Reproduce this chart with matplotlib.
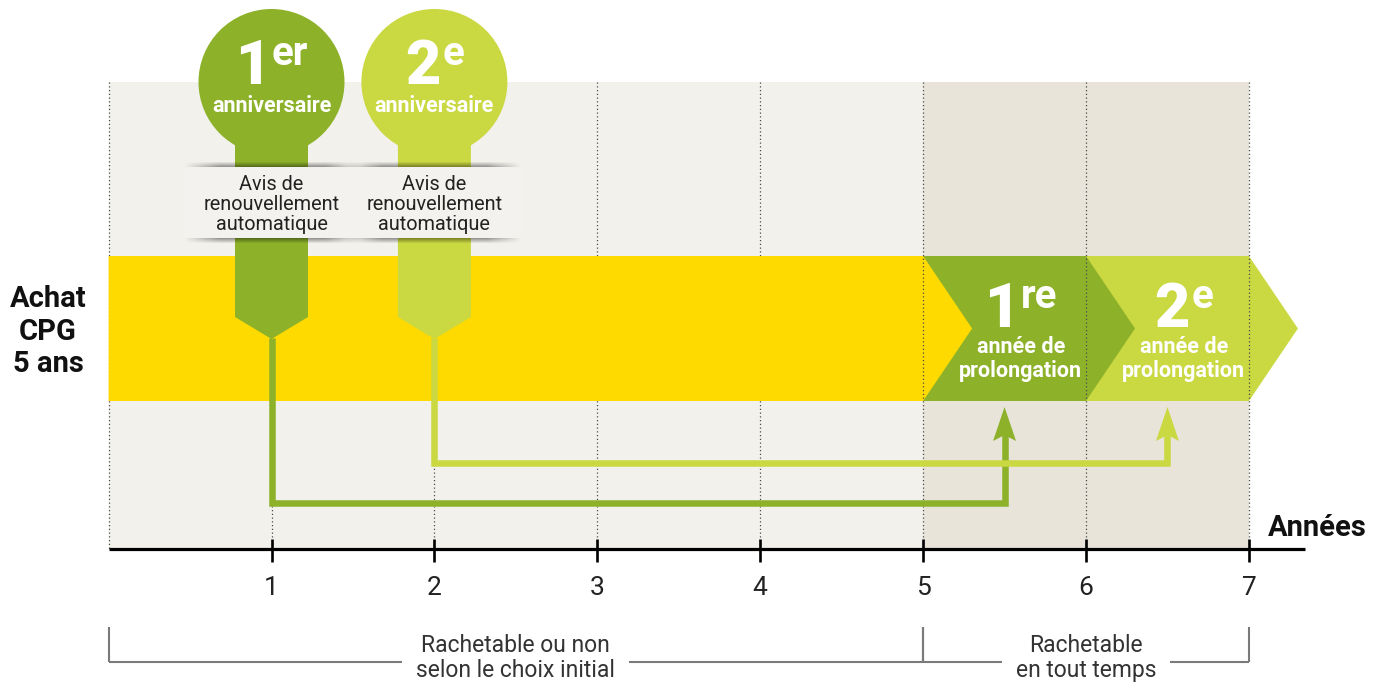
import numpy as np
import matplotlib
matplotlib.use("Agg")
from matplotlib import pyplot as plt
from matplotlib.patches import Polygon, Rectangle, Ellipse

plt.rcParams["font.family"] = ["Roboto", "DejaVu Sans"]

# ---- data ----
YEARS = [1, 2, 3, 4, 5, 6, 7]
TERM = 5
ANNIV_YEARS = [1, 2]
ANNIV_NUM = ["1", "2"]
ANNIV_SUP = ["er", "e"]
ANNIV_NOTE = ["Avis de", "renouvellement", "automatique"]
EXT_START = [5, 6]
EXT_NUM = ["1", "2"]
EXT_SUP = ["re", "e"]
EXT_LABEL = ["année de", "prolongation"]
ARROW_TARGET = [5.5, 6.5]
PERIODS = [(0, 5), (5, 7)]
PERIOD_LABELS = [["Rachetable ou non", "selon le choix initial"],
                 ["Rachetable", "en tout temps"]]
ROW_LABEL = ["Achat", "CPG", "5 ans"]

# ---- style ----
GREENS = ["#8DB22A", "#CAD841"]
YELLOW = "#FFDA00"
BG_LIGHT = "#F3F1EC"
BG_DARK = "#E8E4DA"
PX = 162.9          # pixels per year
X0 = 108.6          # pixel position of year 0


def px(w):
    return w / PX


fig = plt.figure(figsize=(13.85, 6.88), dpi=100)
ax = fig.add_axes([0, 0, 1, 1])
ax.set_xlim(-X0 / PX, (1385 - X0) / PX)
ax.set_ylim(688, 0)
ax.axis("off")
renderer = fig.canvas.get_renderer()

# background panels
last = YEARS[-1]
ax.add_patch(Rectangle((0, 82), TERM, 467, color=BG_LIGHT, lw=0, zorder=0))
ax.add_patch(Rectangle((TERM, 82), last - TERM, 467, color=BG_DARK, lw=0, zorder=0))

# dotted year lines
for y in [0] + YEARS:
    ax.vlines(y, 82, 549, colors="#4a4a4a", lw=0.9, linestyles=(0, (1, 2)),
              zorder=3 if y >= TERM else 1)

# band: term (yellow) + extension chevrons
tip = px(49)
top, bot, mid = 256, 401, 328.5
for i, s in reversed(list(enumerate(EXT_START))):
    ax.add_patch(Polygon([(s, top), (s + 1, top), (s + 1 + tip, mid), (s + 1, bot), (s, bot)],
                         closed=True, color=GREENS[i], lw=0, zorder=2))
ax.add_patch(Polygon([(0, top), (TERM, top), (TERM + tip, mid), (TERM, bot), (0, bot)],
                     closed=True, color=YELLOW, lw=0, zorder=2.5))


def ordinal(xc, base, num, sup, big=44, small=29, rise=19):
    t1 = ax.text(xc, base, num, fontsize=big, weight="heavy", color="white",
                 ha="left", va="baseline", zorder=9)
    t2 = ax.text(xc, base - rise, sup, fontsize=small, weight="bold", color="white",
                 ha="left", va="baseline", zorder=9)
    w1 = t1.get_window_extent(renderer).width
    w2 = t2.get_window_extent(renderer).width
    left = xc - px((w1 + w2 + 2) / 2)
    t1.set_x(left)
    t2.set_x(left + px(w1 + 2))


def shadow(x0, x1, y, down):
    # soft grey edge, fading towards the ends and away from the box
    h, w = 6, 200
    v = np.linspace(0.38, 0.0, h)
    if not down:
        v = v[::-1]
    u = np.clip(np.minimum(np.linspace(0, 1, w), np.linspace(1, 0, w)) * 5, 0, 1)
    rgba = np.zeros((h, w, 4))
    rgba[..., 3] = v[:, None] * u[None, :]
    y0, y1 = (y, y + h) if down else (y - h, y)
    ax.imshow(rgba, extent=(x0, x1, y1, y0), aspect="auto", interpolation="bilinear",
              zorder=6.5)


# chevron labels
for i, s in enumerate(EXT_START):
    xc = s + 0.6
    ordinal(xc, 327, EXT_NUM[i], EXT_SUP[i])
    ax.text(xc, 353, EXT_LABEL[0], fontsize=15.5, weight="bold", color="white",
            ha="center", va="baseline", zorder=9)
    ax.text(xc, 377, EXT_LABEL[1], fontsize=15.5, weight="bold", color="white",
            ha="center", va="baseline", zorder=9)

# connectors with arrows
link_y = [503, 463]
for i, a in enumerate(ANNIV_YEARS):
    t = ARROW_TARGET[i]
    ax.plot([a, a, t, t], [338, link_y[i], link_y[i], 434], color=GREENS[i], lw=4.7,
            solid_joinstyle="miter", solid_capstyle="butt", zorder=4)
    ax.add_patch(Polygon([(t, 407), (t + px(11.5), 441), (t, 435), (t - px(11.5), 441)],
                         closed=True, color=GREENS[i], lw=0, zorder=4))

# balloons
r = 73
half = 36.5
for i, a in enumerate(ANNIV_YEARS):
    c = GREENS[i]
    ax.add_patch(Polygon([(a - px(half), 140), (a + px(half), 140), (a + px(half), 317),
                          (a, 339), (a - px(half), 317)], closed=True, color=c, lw=0, zorder=5))
    ax.add_patch(Ellipse((a, 82), 2 * px(r), 2 * r, color=c, lw=0, zorder=5))
    ordinal(a, 84, ANNIV_NUM[i], ANNIV_SUP[i])
    ax.text(a, 112, "anniversaire", fontsize=15.5, weight="bold", color="white",
            ha="center", va="baseline", zorder=9)

    # note box with soft shadows
    bx0, bx1 = a - px(88), a + px(88)
    ax.add_patch(Rectangle((bx0, 167), bx1 - bx0, 71, color="#F4F2EE", lw=0, zorder=6))
    shadow(bx0, bx1, 167, down=False)
    shadow(bx0, bx1, 238, down=True)
    for j, line in enumerate(ANNIV_NOTE):
        ax.text(a, 190 + 20 * j, line, fontsize=14.3, color="#222222",
                ha="center", va="baseline", zorder=9)

# row label
for j, line in enumerate(ROW_LABEL):
    ax.text(px(48 - X0), 307 + 32.5 * j, line, fontsize=21, weight="bold", color="#111111",
            ha="center", va="baseline", zorder=9)

# time axis
ax.hlines(549, 0, px(1305 - X0), colors="black", lw=2.3, zorder=7)
ax.vlines(YEARS, 539, 562, colors="black", lw=1.9, zorder=7)
for y in YEARS:
    ax.text(y, 588, str(y), fontsize=19, color="#222222", ha="center", va="center",
            zorder=9)
ax.text(px(1268 - X0), 536, "Années", fontsize=21, weight="bold", color="#111111",
        ha="left", va="baseline", zorder=9)

# period brackets
for (p0, p1), lines in zip(PERIODS, PERIOD_LABELS):
    xc = (p0 + p1) / 2
    width = 0
    for j, line in enumerate(lines):
        t = ax.text(xc, 652 + 25 * j, line, fontsize=16.5, color="#333333",
                    ha="center", va="baseline", zorder=9)
        width = max(width, t.get_window_extent(renderer).width)
    gap = px(width / 2 + 14)
    ax.vlines([p0, p1], 627, 662, colors="#7a7a7a", lw=1.5)
    ax.hlines(662, p0, xc - gap, colors="#7a7a7a", lw=1.5)
    ax.hlines(662, xc + gap, p1, colors="#7a7a7a", lw=1.5)

ax.set_xlim(-X0 / PX, (1385 - X0) / PX)
ax.set_ylim(688, 0)
fig.savefig("out.png", dpi=100)
